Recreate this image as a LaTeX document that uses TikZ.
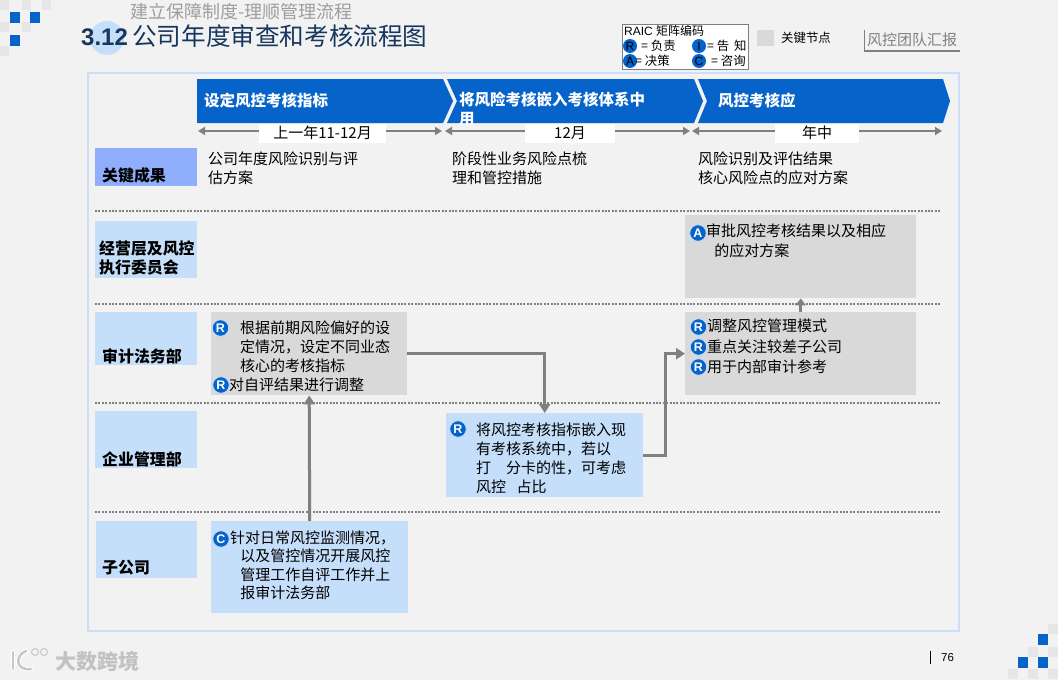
\documentclass[tikz,border=0pt]{standalone}
\usepackage{fontspec}
\usetikzlibrary{arrows.meta}
\setmainfont{Noto Sans CJK SC}
\newfontfamily\latinf{Liberation Sans}
\definecolor{bg}{HTML}{F2F2F2}
\definecolor{mainblue}{HTML}{0563C9}
\definecolor{paleblue}{HTML}{C5DEFA}
\definecolor{keyblue}{HTML}{8FAEFC}
\definecolor{boxgray}{HTML}{D9D9D9}
\definecolor{cgray}{HTML}{808080}
\definecolor{frameblue}{HTML}{CBE0F8}
\definecolor{navy}{HTML}{17375E}
\definecolor{squaregray}{HTML}{E6E6E6}
\tikzset{
  lane/.style={draw=none,fill=paleblue,inner sep=0pt,anchor=north west},
  areabox/.style={draw=none,inner sep=0pt,anchor=north west},
  lbl/.style={inner sep=0pt,anchor=west,font=\fontsize{15.9}{19}\selectfont\bfseries,text=black,align=left},
  body/.style={inner sep=0pt,anchor=north west,font=\fontsize{15}{19.2}\selectfont,text=black,align=left},
  head/.style={inner sep=0pt,anchor=west,font=\fontsize{15.5}{19}\selectfont\bfseries,text=white,align=left},
  badge/.style={circle,fill=mainblue,draw=paleblue,line width=.8pt,inner sep=0pt,minimum size=16.5pt,text=white,font=\latinf\fontsize{12.5}{12}\selectfont\bfseries},
  legbadge/.style={circle,fill=mainblue,inner sep=0pt,minimum size=14pt,text=black,font=\latinf\fontsize{12}{11}\selectfont},
  legtxt/.style={inner sep=0pt,anchor=west,font=\fontsize{12.4}{14}\selectfont,text=black},
  conn/.style={draw=cgray,line width=3pt,-{Triangle[length=9pt,width=11pt]}},
  tline/.style={draw=cgray,line width=2.2pt,{Triangle[length=7pt,width=8pt]}-{Triangle[length=7pt,width=8pt]}},
  tlabel/.style={fill=white,inner sep=0pt,minimum height=19pt,font=\fontsize{15}{16}\selectfont,text=black},
  sep/.style={draw=cgray,line width=2pt,dash pattern=on 2pt off 1.4pt},
  bsq/.style={fill=mainblue,draw=none},
  gsq/.style={fill=squaregray,draw=none}
}
\begin{document}
\begin{tikzpicture}[x=1pt,y=-1pt]
\useasboundingbox (0,0) rectangle (1058,680);
\fill[bg] (0,0) rectangle (1058,680);
% corner squares
\foreach \x/\y in {0/0,22/0,42/0,0/22,22/22,0/46}{\fill[gsq] (\x,\y) rectangle ++(9,10);}
\foreach \x/\y in {10/12,30/12,10/35}{\fill[bsq] (\x,\y) rectangle ++(10,10.5);}
\foreach \x/\y in {1048/624,1028/647,1048/647,1008/669,1028/669,1048/669}{\fill[gsq] (\x,\y) rectangle ++(9.5,10);}
\foreach \x/\y in {1038/634,1018/657,1038/657}{\fill[bsq] (\x,\y) rectangle ++(9.5,11);}
% title
\fill[paleblue] (107,38) circle (17);
\node[inner sep=0pt,anchor=west,font=\fontsize{18}{20}\selectfont,text=black!38] (subtitle) at (130,12) {建立保障制度-理顺管理流程};
\node[inner sep=0pt,anchor=west,font=\latinf\fontsize{24}{26}\selectfont\bfseries,text=navy] (num) at (81,37) {3.12};
\node[inner sep=0pt,anchor=west,font=\fontsize{24.6}{26}\selectfont,text=navy] (title) at (132,36) {公司年度审查和考核流程图};
% legend
\node[draw=cgray,fill=white,line width=.8pt,inner sep=0pt,minimum width=126pt,minimum height=45pt,anchor=north west] (legend) at (622,24) {};
\node[legtxt,font=\latinf\fontsize{12}{14}\selectfont] (legtitle) at (624,31) {RAIC \fontspec{Noto Sans CJK SC}矩阵编码};
\node[legbadge] (lr) at (630,46) {R};
\node[legtxt] (ltr) at (641,46) {= 负责};
\node[legbadge] (li) at (699,46) {I};
\node[legtxt] (lti) at (707,46) {= 告\hspace{.4em}知};
\node[legbadge] (la) at (630,61) {A};
\node[legtxt] (lta) at (635,61) {= 决策};
\node[legbadge] (lc) at (699,61) {C};
\node[legtxt] (ltc) at (711,61) {= 咨询};
\node[areabox,fill=boxgray,minimum width=17pt,minimum height=16pt] (keysq) at (757,30) {};
\node[legtxt] (keytxt) at (781,38) {关键节点};
\node[inner sep=0pt,anchor=west,font=\fontsize{15}{16}\selectfont,text=black!50] (team) at (867,39.5) {风控团队汇报};
\draw[cgray,line width=1pt] (864,30) coordinate (tmA) -- (864,51);
\draw[cgray,line width=2pt] (864,51) coordinate (tmB) -- (960,51) coordinate (tmC);
% frame
\draw[frameblue,line width=2pt] (88,72.5) rectangle (959,631);
% chevrons
\fill[mainblue] (197,79) -- (443,79) -- (453,101) -- (443,123) -- (197,123) -- cycle;
\fill[mainblue] (447,79) -- (694,79) -- (703,101) -- (694,123) -- (447,123) -- (457,101) -- cycle;
\fill[mainblue] (698,79) -- (943,79) -- (950,101) -- (943,123) -- (698,123) -- (707,101) -- cycle;
\node[head] (h1) at (204,101) {设定风控考核指标};
\node[head,anchor=north west] (h2) at (459,92) {将风险考核嵌入考核体系中\\用};
\node[head] (h3) at (718,101) {风控考核应};
% time lines
\draw[tline] (198,131) coordinate (t1a) -- (442,131) coordinate (t1b);
\node[tlabel,minimum width=127pt] (t1) at (322.5,133) {上一年11-12月};
\draw[tline] (445,131) coordinate (t2a) -- (690,131) coordinate (t2b);
\node[tlabel,minimum width=90pt] (t2) at (570,133) {12月};
\draw[tline] (692,131) coordinate (t3a) -- (942,131) coordinate (t3b);
\node[tlabel,minimum width=84pt] (t3) at (817,133) {年中};
% separators
\foreach \y in {211,304,403,512}{\draw[sep] (95,\y) -- (941,\y);}
% lanes
\node[lane,fill=keyblue,minimum width=102pt,minimum height=38pt] (l0) at (95,148) {};
\node[lane,minimum width=102pt,minimum height=57pt] (l1) at (95,221) {};
\node[lane,minimum width=102pt,minimum height=53pt] (l2) at (95,312) {};
\node[lane,minimum width=102pt,minimum height=57pt] (l3) at (95,411) {};
\node[lane,minimum width=101pt,minimum height=57pt] (l4) at (96,521) {};
\node[lbl] (l0t) at (102,175) {关键成果};
\node[lbl] (l1t) at (99,258) {经营层及风控\\执行委员会};
\node[lbl] (l2t) at (102,356) {审计法务部};
\node[lbl] (l3t) at (102,459) {企业管理部};
\node[lbl] (l4t) at (102,568) {子公司};
% key results
\node[body,font=\fontsize{15}{18.2}\selectfont] (k1) at (208,152) {公司年度风险识别与评\\估方案};
\node[body,font=\fontsize{15}{18.2}\selectfont] (k2) at (452,152) {阶段性业务风险点梳\\理和管控措施};
\node[body,font=\fontsize{15}{18.2}\selectfont] (k3) at (698,152) {风险识别及评估结果\\核心风险点的应对方案};
% process boxes
\node[areabox,fill=boxgray,minimum width=231pt,minimum height=83pt] (g2) at (685,215) {};
\node[areabox,fill=boxgray,minimum width=231pt,minimum height=83pt] (g3) at (685,312) {};
\node[areabox,fill=boxgray,minimum width=196pt,minimum height=83pt] (g1) at (211,312) {};
\node[areabox,fill=paleblue,minimum width=197pt,minimum height=84pt] (b1) at (446,413) {};
\node[areabox,fill=paleblue,minimum width=197pt,minimum height=92pt] (s1) at (211,521) {};
% connectors
\draw[conn] (g1.east) -| (b1.north);
\draw[conn] (b1.east) -- ++(22,0) |- (g3.west);
\draw[conn] (s1.north) -- (g1.south);
\draw[conn,-{Triangle[length=7pt,width=10pt]}] (g3.north) -- (g2.south);
% box text
\node[body] (g1a) at (240,320.5) {根据前期风险偏好的设\\定情况，设定不同业态\\核心的考核指标};
\node[body] (g1b) at (229,377.5) {对自评结果进行调整};
\node[body] (b1a) at (476,422.5) {将风控考核指标嵌入现\\有考核系统中，若以\\打\hspace{1em}分卡的性，可考虑\\风控\hspace{.7em}占比};
\node[body] (g2a) at (706,224) {审批风控考核结果以及相应\\\hspace{.55em}的应对方案};
\node[body,font=\fontsize{15}{20.4}\selectfont] (g3a) at (707,319) {调整风控管理模式\\重点关注较差子公司\\用于内部审计参考};
\node[body,font=\fontsize{15}{18.4}\selectfont] (s1a) at (230,530.5) {针对日常风控监测情况，\\\hspace{.67em}以及管控情况开展风控\\\hspace{.67em}管理工作自评工作并上\\\hspace{.67em}报审计法务部};
% badges
\node[badge] (rb1) at (220.5,328) {R};
\node[badge] (rb2) at (221,385) {R};
\node[badge] (rb3) at (458,429) {R};
\node[badge] (ab1) at (698,233) {A};
\node[badge] (rb4) at (698.5,327) {R};
\node[badge] (rb5) at (698.5,347) {R};
\node[badge] (rb6) at (698.5,367) {R};
\node[badge] (cb1) at (221,539) {C};
% footer
\draw[black,line width=1pt] (930,651) coordinate (pa) -- (930,664) coordinate (pb);
\node[inner sep=0pt,anchor=west,font=\latinf\fontsize{11.5}{12}\selectfont,text=black] (page) at (941,658) {76};
% logo
\draw[white,line width=4.5pt,line cap=round] (13,652) -- (13,669);
\draw[white,line width=4.5pt,line cap=round] (26,651) .. controls (15,655) and (15,671) .. (31,669);
\draw[black!22,line width=2.5pt,line cap=round] (13,652) coordinate (lg1) -- (13,669) coordinate (lg2);
\draw[black!22,line width=2.5pt,line cap=round] (26,651) coordinate (lg3) .. controls (15,655) and (15,671) .. (31,669) coordinate (lg4);
\draw[black!22,line width=1pt] (35,652) circle (3.5);
\draw[black!22,line width=1pt] (44,652) circle (3.5);
\node[inner sep=0pt,anchor=west,font=\fontsize{21}{22}\selectfont\bfseries,text=black!24] (logo) at (55,661) {大数跨境};
\end{tikzpicture}
\end{document}
